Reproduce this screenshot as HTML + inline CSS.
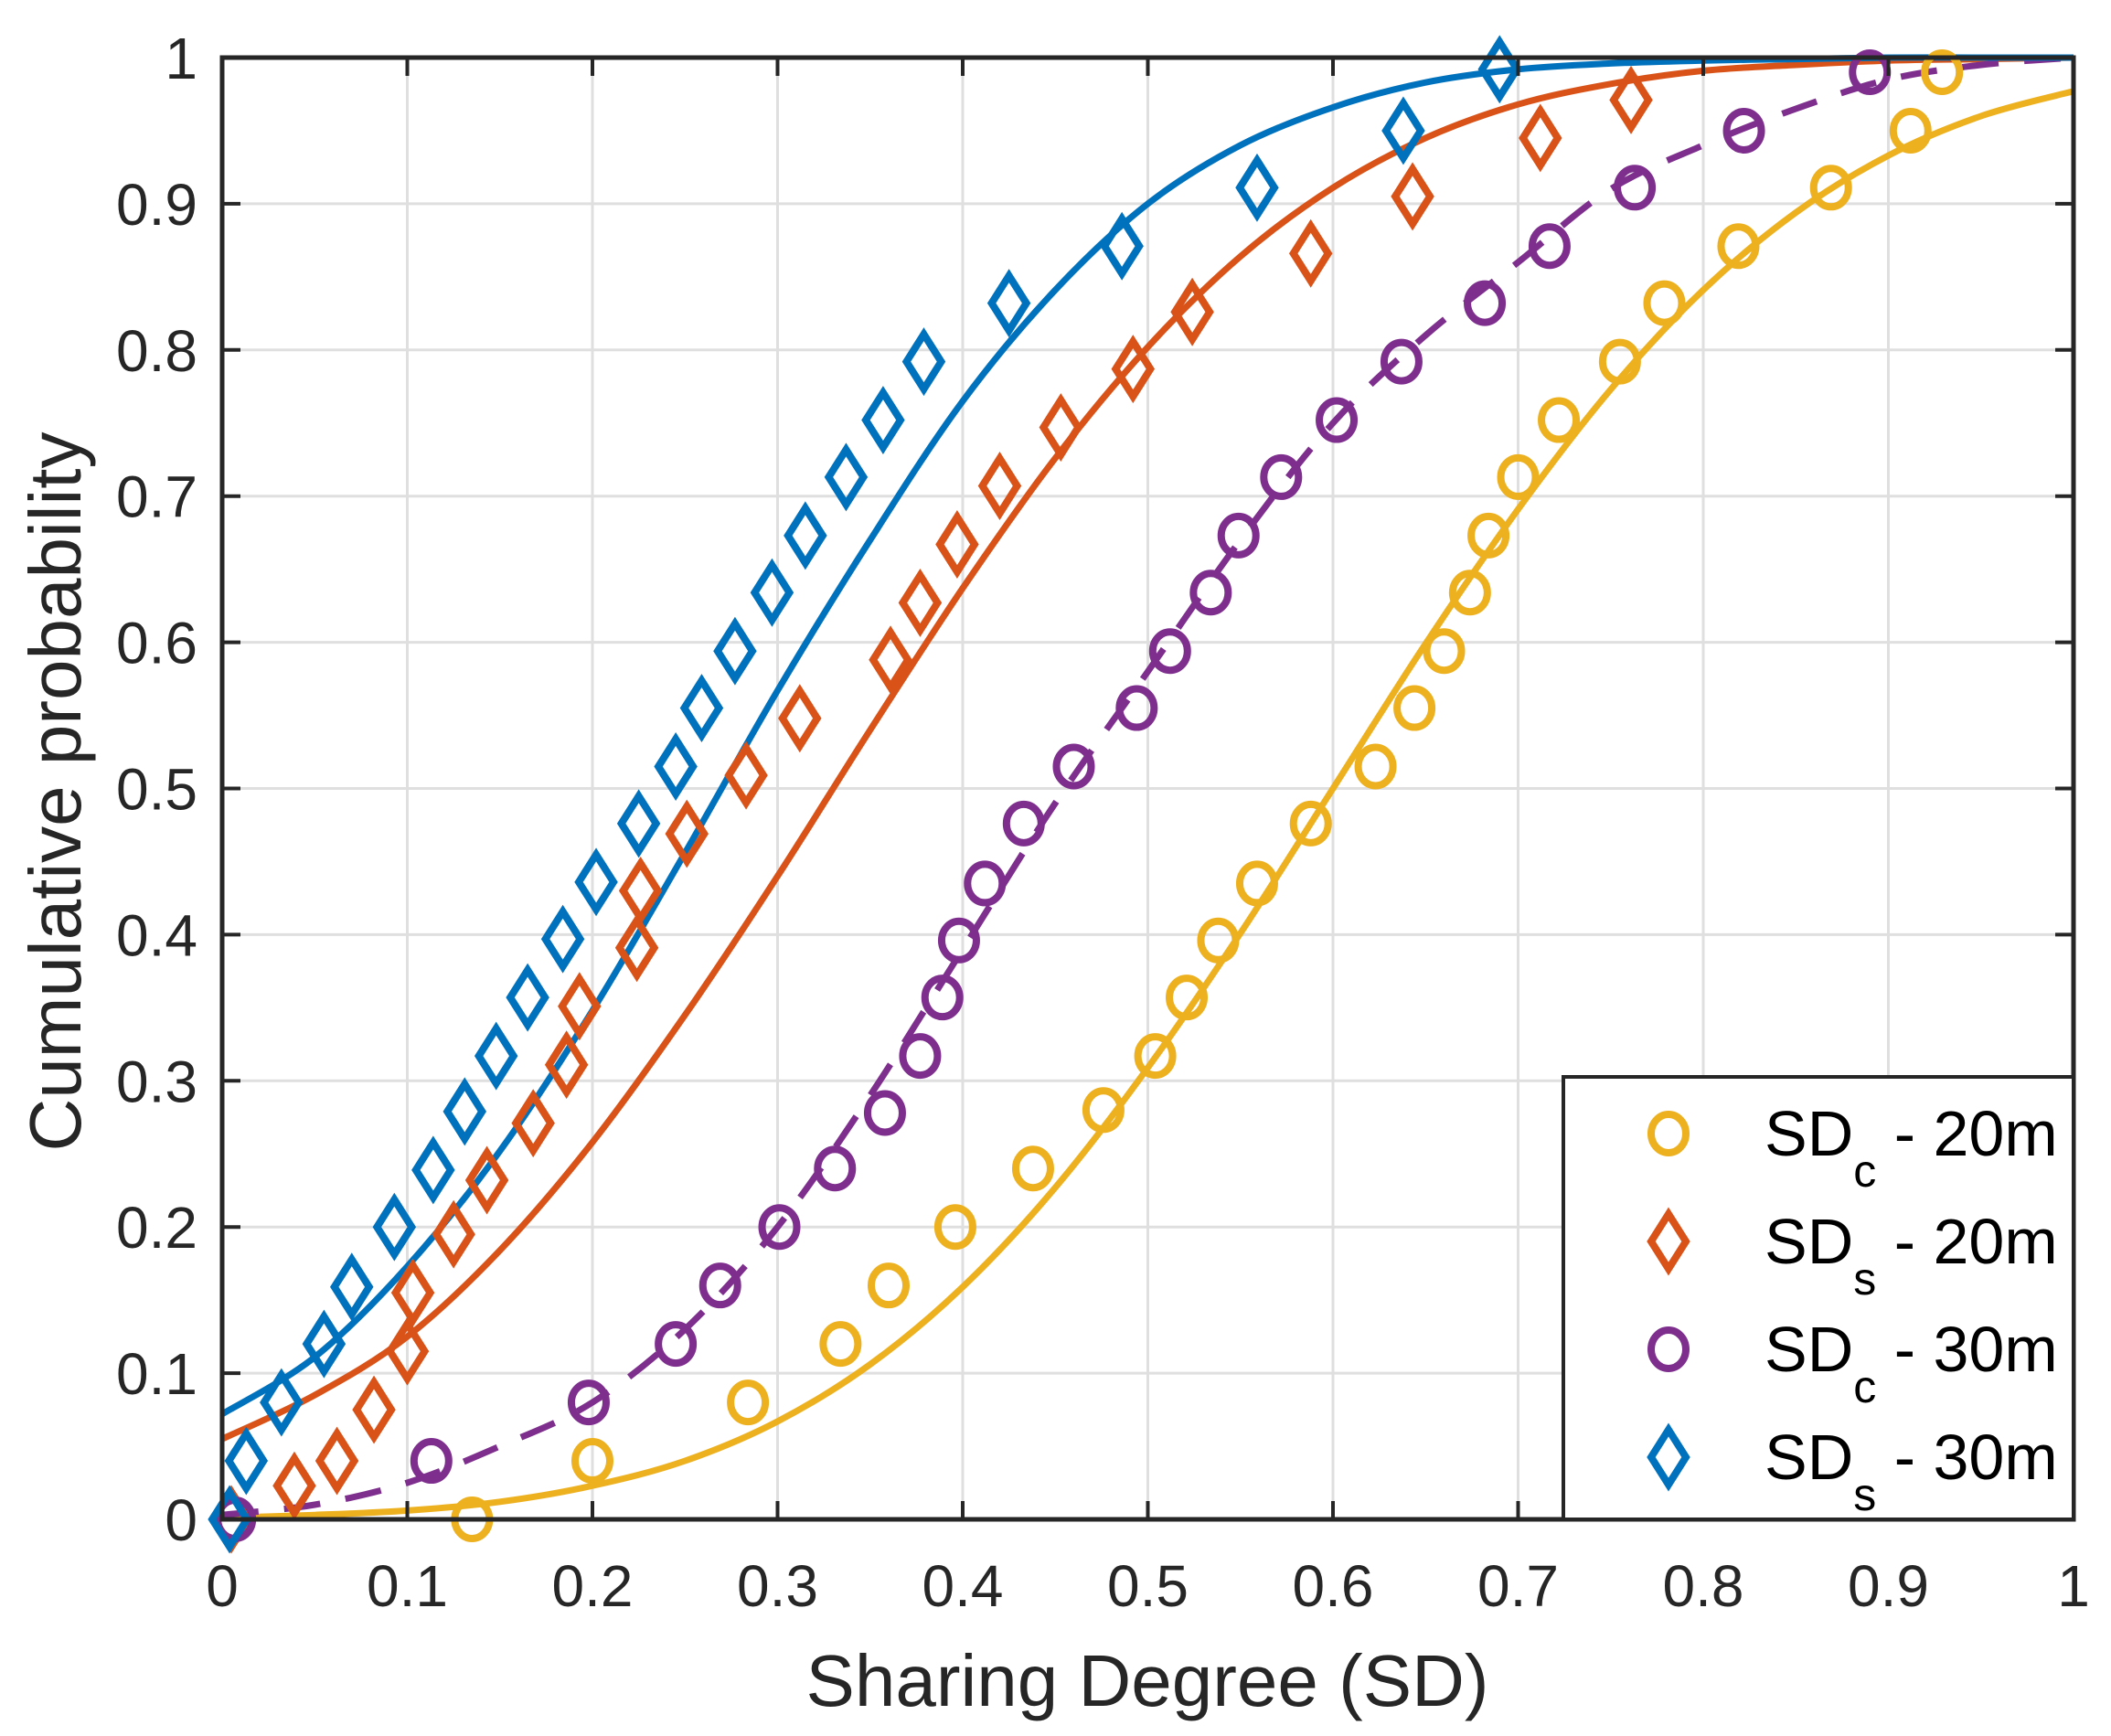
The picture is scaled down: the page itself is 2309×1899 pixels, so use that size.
<!DOCTYPE html>
<html><head><meta charset="utf-8"><style>
html,body{margin:0;padding:0;background:#fff;}
svg{display:block;font-family:"Liberation Sans",sans-serif;}
</style></head><body>
<svg id="chart" width="2309" height="1899" viewBox="0 0 2309 1899" xmlns="http://www.w3.org/2000/svg">
<g id="grid"></g>
<g id="curves"></g>
<g id="marks"></g>
<g id="axes"></g>
<text x="1255" y="1866" font-size="80" text-anchor="middle" fill="#262626">Sharing Degree (SD)</text>
<text transform="translate(88,866) rotate(-90)" font-size="80" text-anchor="middle" fill="#262626">Cumulative probability</text>
<g id="legend"></g>
</svg>
<script>
const xTicks=[0,0.1,0.2,0.3,0.4,0.5,0.6,0.7,0.8,0.9,1];
const xTickLabels=["0","0.1","0.2","0.3","0.4","0.5","0.6","0.7","0.8","0.9","1"];
const yTicks=[0,0.1,0.2,0.3,0.4,0.5,0.6,0.7,0.8,0.9,1];
const yTickLabels=["0","0.1","0.2","0.3","0.4","0.5","0.6","0.7","0.8","0.9","1"];
const curveX=[0,0.05,0.1,0.15,0.2,0.25,0.3,0.35,0.4,0.45,0.5,0.55,0.6,0.65,0.7,0.75,0.8,0.85,0.9,0.95,1];
const curveC20=[0.001,0.003,0.006,0.012,0.023,0.04,0.067,0.106,0.159,0.227,0.309,0.401,0.5,0.599,0.691,0.773,0.841,0.894,0.933,0.96,0.977];
const curveS20=[0.055,0.085,0.125,0.184,0.258,0.345,0.44,0.54,0.637,0.726,0.802,0.864,0.911,0.945,0.968,0.982,0.991,0.995,0.998,0.999,1];
const curveC30=[0.003,0.01,0.025,0.05,0.08,0.13,0.2,0.29,0.39,0.49,0.58,0.67,0.75,0.81,0.86,0.91,0.94,0.965,0.985,0.995,1];
const curveS30=[0.072,0.111,0.173,0.252,0.348,0.456,0.567,0.67,0.765,0.841,0.9,0.94,0.966,0.983,0.992,0.996,0.998,0.999,1,1,1];
const ptsC20x=[0.135,0.2,0.284,0.334,0.36,0.396,0.438,0.476,0.504,0.521,0.538,0.559,0.588,0.623,0.644,0.66,0.674,0.684,0.7,0.722,0.755,0.779,0.819,0.869,0.912,0.929];
const ptsC20y=[0,0.04,0.08,0.12,0.16,0.2,0.24,0.28,0.317,0.357,0.396,0.435,0.476,0.515,0.555,0.594,0.634,0.673,0.713,0.752,0.792,0.832,0.871,0.911,0.95,0.99];
const ptsC30x=[0.007,0.113,0.198,0.245,0.269,0.301,0.331,0.358,0.377,0.389,0.398,0.412,0.433,0.46,0.494,0.512,0.534,0.549,0.572,0.602,0.637,0.682,0.717,0.763,0.822,0.89];
const ptsC30y=[0,0.04,0.08,0.12,0.16,0.2,0.24,0.278,0.317,0.357,0.396,0.435,0.476,0.515,0.555,0.594,0.634,0.673,0.713,0.752,0.792,0.832,0.871,0.911,0.95,0.99];
const ptsS20x=[0.005,0.039,0.062,0.082,0.1,0.103,0.125,0.143,0.168,0.186,0.193,0.224,0.226,0.251,0.283,0.312,0.361,0.377,0.397,0.42,0.453,0.492,0.524,0.588,0.643,0.712,0.761];
const ptsS20y=[0,0.023,0.04,0.075,0.115,0.155,0.195,0.232,0.271,0.311,0.351,0.391,0.43,0.469,0.509,0.548,0.588,0.627,0.667,0.707,0.747,0.787,0.826,0.866,0.905,0.945,0.971];
const ptsS30x=[0.004,0.013,0.032,0.055,0.07,0.093,0.114,0.131,0.148,0.165,0.184,0.202,0.225,0.245,0.259,0.277,0.297,0.315,0.337,0.357,0.379,0.425,0.486,0.559,0.638,0.69];
const ptsS30y=[0,0.04,0.08,0.12,0.159,0.2,0.239,0.279,0.317,0.357,0.397,0.436,0.476,0.515,0.555,0.594,0.634,0.673,0.713,0.752,0.792,0.832,0.871,0.911,0.95,0.992];

const L=243,T=63,R=2268,B=1662;
const sx=v=>L+v*(R-L), sy=v=>B-v*(B-T);
const NS="http://www.w3.org/2000/svg";
function mk(tag,attrs,parent){const e=document.createElementNS(NS,tag);for(const k in attrs)e.setAttribute(k,attrs[k]);parent.appendChild(e);return e;}
const grid=document.getElementById('grid'),axes=document.getElementById('axes'),curves=document.getElementById('curves'),marks=document.getElementById('marks'),legend=document.getElementById('legend');
xTicks.forEach((t,i)=>{
  const g=mk('line',{x1:sx(t),x2:sx(t),y1:T,y2:B,stroke:'#dfdfdf','stroke-width':3},grid);
  
  const a=mk('line',{x1:sx(t),x2:sx(t),y1:B,y2:B-20,stroke:'#262626','stroke-width':4},axes);
  
  const b=mk('line',{x1:sx(t),x2:sx(t),y1:T,y2:T+20,stroke:'#262626','stroke-width':4},axes);
  
  const tx=mk('text',{x:sx(t),y:1757,'font-size':64,'text-anchor':'middle',fill:'#262626'},axes);
  
  tx.textContent=xTickLabels[i];
});
yTicks.forEach((t,i)=>{
  const g=mk('line',{x1:L,x2:R,y1:sy(t),y2:sy(t),stroke:'#dfdfdf','stroke-width':3},grid);
  
  const a=mk('line',{x1:L,x2:L+20,y1:sy(t),y2:sy(t),stroke:'#262626','stroke-width':4},axes);
  
  const b=mk('line',{x1:R,x2:R-20,y1:sy(t),y2:sy(t),stroke:'#262626','stroke-width':4},axes);
  
  const tx=mk('text',{x:216,y:sy(t)+23,'font-size':64,'text-anchor':'end',fill:'#262626'},axes);
  
  tx.textContent=yTickLabels[i];
});
const box=mk('rect',{x:L,y:T,width:R-L,height:B-T,fill:'none',stroke:'#262626','stroke-width':5},axes);


const COL={y:'#EDB120',o:'#D95319',p:'#7E2F8E',b:'#0072BD'};
function curve(ys,col,name,dash){
  const P=curveX.map((x,i)=>[sx(x),sy(ys[i])]);
  let d='M'+P[0][0].toFixed(1)+','+P[0][1].toFixed(1);
  for(let i=0;i<P.length-1;i++){
    const p0=P[Math.max(0,i-1)],p1=P[i],p2=P[i+1],p3=P[Math.min(P.length-1,i+2)];
    const c1=[p1[0]+(p2[0]-p0[0])/6,p1[1]+(p2[1]-p0[1])/6];
    const c2=[p2[0]-(p3[0]-p1[0])/6,p2[1]-(p3[1]-p1[1])/6];
    d+=`C${c1[0].toFixed(1)},${c1[1].toFixed(1)} ${c2[0].toFixed(1)},${c2[1].toFixed(1)} ${p2[0].toFixed(1)},${p2[1].toFixed(1)}`;
  }
  const p=mk('path',{d:d,fill:'none',stroke:col,'stroke-width':7,'stroke-linejoin':'round'},curves);
  if(dash)p.setAttribute('stroke-dasharray','40,28');
  
}
curve(curveC20,COL.y,'fit-curve-sdc-20m');
curve(curveS20,COL.o,'fit-curve-sds-20m');
curve(curveC30,COL.p,'fit-curve-sdc-30m',true);
curve(curveS30,COL.b,'fit-curve-sds-30m');

function circ(cx,cy,col,parent){return mk('ellipse',{cx:cx,cy:cy,rx:19,ry:21,fill:'none',stroke:col,'stroke-width':8},parent);}
function diam(cx,cy,col,parent){return mk('path',{d:`M${cx},${cy-30}L${cx+19},${cy}L${cx},${cy+30}L${cx-19},${cy}Z`,fill:'none',stroke:col,'stroke-width':8},parent);}
ptsC20x.forEach((x,i)=>{const e=circ(sx(x),sy(ptsC20y[i]),COL.y,marks);});
ptsS20x.forEach((x,i)=>{const e=diam(sx(x),sy(ptsS20y[i]),COL.o,marks);});
ptsC30x.forEach((x,i)=>{const e=circ(sx(x),sy(ptsC30y[i]),COL.p,marks);});
ptsS30x.forEach((x,i)=>{const e=diam(sx(x),sy(ptsS30y[i]),COL.b,marks);});

const lb=mk('rect',{x:1710,y:1178,width:R-1710,height:B-1178,fill:'#fff',stroke:'#262626','stroke-width':4},legend);

const entries=[['c','20m',COL.y,'circ'],['s','20m',COL.o,'diam'],['c','30m',COL.p,'circ'],['s','30m',COL.b,'diam']];
entries.forEach((en,i)=>{
  const cy=1240+i*118;
  const g=mk('g',{},legend);
  
  if(en[3]==='circ')circ(1825,cy,en[2],g);else diam(1825,cy,en[2],g);
  const t=mk('text',{x:1930,y:cy+24,'font-size':70,fill:'#000'},g);
  t.innerHTML=`SD<tspan font-size="50" dy="34">${en[0]}</tspan><tspan dy="-34"> - ${en[1]}</tspan>`;
});
</script>
</body></html>
